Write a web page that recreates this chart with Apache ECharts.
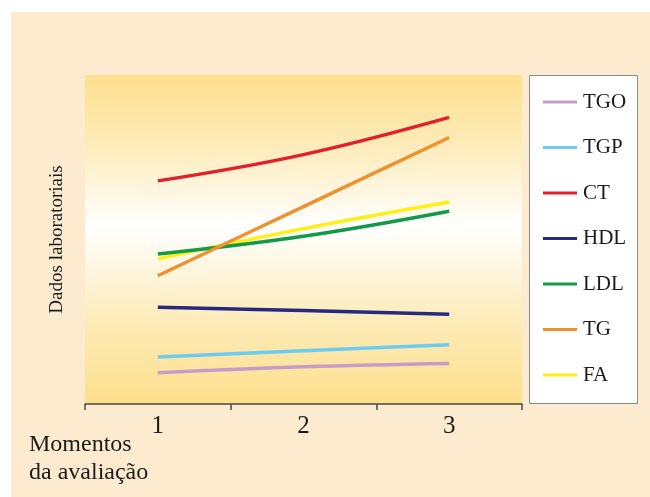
<!DOCTYPE html>
<html>
<head>
<meta charset="utf-8">
<script src="https://cdn.jsdelivr.net/npm/echarts@6/dist/echarts.min.js"></script>
<style>
html,body{margin:0;padding:0;background:#ffffff;}
#bg{position:absolute;left:11px;top:12px;width:639px;height:485px;background:#fcebcf;}
#chart{position:absolute;left:0;top:0;width:650px;height:497px;}
</style>
</head>
<body>
<div id="bg"></div>
<div id="chart"></div>
<script>
const categories = ['1', '2', '3'];
const seriesNames = ['TGO', 'TGP', 'CT', 'HDL', 'LDL', 'TG', 'FA'];
const TGO = [9.5, 11.3, 12.3];
const TGP = [14.3, 16.2, 18.0];
const CT  = [67.8, 75.8, 87.1];
const HDL = [29.4, 28.4, 27.3];
const LDL = [45.6, 51.0, 58.6];
const TG  = [39.0, 60.0, 81.0];
const FA  = [44.1, 53.3, 61.4];
const seriesData = [TGO, TGP, CT, HDL, LDL, TG, FA];
const colors = ['#c59ccb', '#6ccbee', '#e3202a', '#25297f', '#139a48', '#f0902e', '#fff014'];
const drawOrder = [0, 1, 3, 6, 4, 5, 2];

const FONT = '"Liberation Serif", "DejaVu Serif", serif';
const TXT = '#1c1a1a';
const chart = echarts.init(document.getElementById('chart'));

const series = drawOrder.map(i => ({
  name: seriesNames[i],
  type: 'line',
  data: seriesData[i],
  smooth: 0.4,
  symbol: 'none',
  lineStyle: { width: 3.4, color: colors[i] },
  itemStyle: { color: colors[i] },
  z: 3
}));

chart.setOption({
  backgroundColor: 'transparent',
  animation: false,
  grid: {
    left: 85, right: 128, top: 75, bottom: 93,
    show: true,
    borderWidth: 0,
    backgroundColor: new echarts.graphic.LinearGradient(0, 0, 0, 1, [
      { offset: 0, color: '#fde08e' },
      { offset: 0.2, color: '#fdeab5' },
      { offset: 0.46, color: '#ffffff' },
      { offset: 0.75, color: '#fdebb8' },
      { offset: 1, color: '#fde08c' }
    ])
  },
  legend: {
    data: seriesNames,
    orient: 'vertical',
    left: 543, top: 91.5,
    itemWidth: 34, itemHeight: 3,
    itemGap: 24.5,
    icon: 'rect',
    textStyle: { fontFamily: FONT, fontSize: 21, color: TXT, padding: [0, 0, 0, 1] },
    padding: 0
  },
  graphic: [
    { type: 'rect', left: 529, top: 75, shape: { width: 108, height: 328 },
      style: { fill: '#ffffff', stroke: '#8a8a8a', lineWidth: 1 }, z: -1 },
    { type: 'text', left: 29, top: 431,
      style: { text: 'Momentos\nda avaliação', font: '24px ' + FONT, fill: TXT, lineHeight: 28 } }
  ],
  xAxis: {
    type: 'category',
    data: categories,
    boundaryGap: true,
    axisLine: { show: true, lineStyle: { color: '#4a4a4a', width: 1.5 } },
    axisTick: { show: true, length: 6, lineStyle: { color: '#4a4a4a', width: 1.5 } },
    axisLabel: { fontFamily: FONT, fontSize: 25, color: TXT, margin: 10 },
    splitLine: { show: false }
  },
  yAxis: {
    type: 'value',
    min: 0, max: 100,
    name: 'Dados laboratoriais',
    nameLocation: 'middle',
    nameRotate: 90,
    nameGap: 18,
    nameTextStyle: { fontFamily: FONT, fontSize: 19, color: TXT },
    axisLine: { show: false },
    axisTick: { show: false },
    axisLabel: { show: false },
    splitLine: { show: false }
  },
  series: series
});
</script>
</body>
</html>
